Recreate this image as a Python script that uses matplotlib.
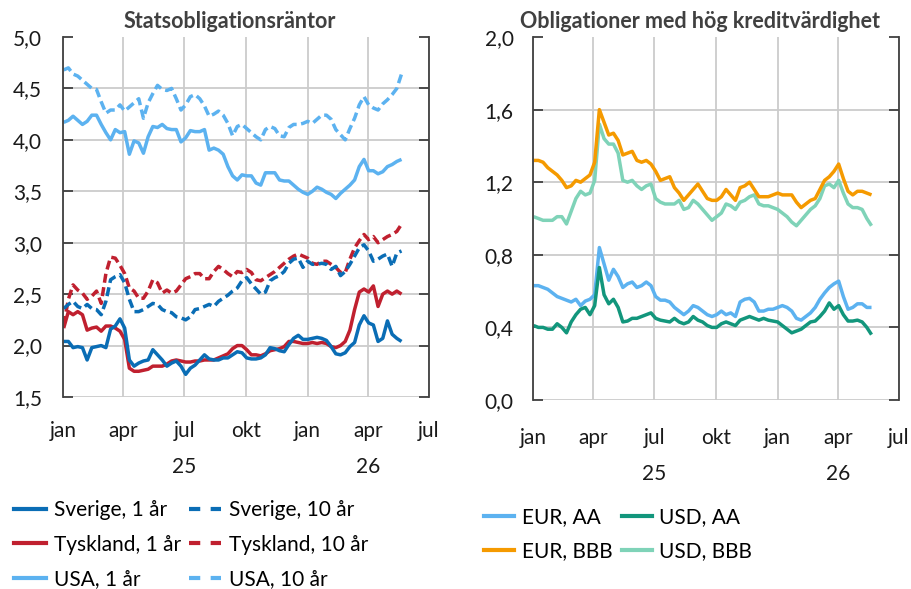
import numpy as np
import pandas as pd
import matplotlib
matplotlib.use("Agg")
import matplotlib.pyplot as plt
from matplotlib.lines import Line2D
import matplotlib.transforms as mtransforms

plt.rcParams['font.family'] = ['Lato', 'DejaVu Sans']

# ---------------- data (weekly readings) ----------------
dates = pd.date_range('2025-01-02', periods=73, freq='7D')

sverige_1 = [2.04,2.04,1.98,1.99,1.98,1.86,1.98,1.99,2.00,1.98,2.16,2.19,2.26,2.17,
             1.86,1.80,1.83,1.85,1.86,1.96,1.91,1.86,1.80,1.83,1.85,1.80,1.72,1.78,1.81,1.86,1.91,1.87,1.86,1.86,1.88,1.88,
             1.91,1.94,1.93,1.88,1.87,1.87,1.88,1.91,1.98,1.97,1.95,1.94,2.01,2.07,2.10,2.06,2.06,2.07,2.08,2.07,
             2.05,1.99,1.92,1.91,1.93,1.99,2.03,2.20,2.29,2.22,2.20,2.04,2.07,2.24,2.11,2.07,2.04]
sverige_10 = [2.36,2.40,2.43,2.38,2.36,2.40,2.36,2.35,2.30,2.43,2.64,2.67,2.69,2.61,2.45,2.33,2.33,2.35,2.38,2.41,
              2.40,2.35,2.33,2.32,2.28,2.27,2.25,2.28,2.35,2.36,2.38,2.40,2.38,2.43,2.46,2.49,2.53,
              2.56,2.63,2.66,2.60,2.55,2.50,2.52,2.63,2.66,2.68,2.72,2.80,2.84,2.85,2.76,2.82,2.79,2.79,2.80,2.79,
              2.74,2.77,2.68,2.72,2.79,2.87,2.95,2.98,2.92,2.82,2.84,2.87,2.89,2.77,2.90,2.92]
tyskland_1 = [2.17,2.33,2.30,2.33,2.30,2.15,2.17,2.18,2.14,2.19,2.19,2.17,2.14,2.06,1.78,
              1.75,1.75,1.76,1.77,1.80,1.80,1.80,1.82,1.85,1.86,1.85,1.84,1.84,1.85,1.85,1.86,1.86,1.86,1.88,1.90,1.92,
              1.97,2.00,2.00,1.96,1.91,1.91,1.90,1.92,1.95,1.96,1.97,1.99,2.04,2.04,2.03,2.02,2.02,2.03,2.02,2.03,
              2.02,1.99,1.98,2.00,2.04,2.15,2.35,2.52,2.55,2.52,2.58,2.38,2.50,2.53,2.50,2.53,2.50]
tyskland_10 = [2.20,2.45,2.59,2.54,2.51,2.45,2.48,2.53,2.41,2.70,2.86,2.85,2.78,2.70,2.56,2.53,2.46,2.46,2.53,2.64,
               2.61,2.51,2.54,2.51,2.53,2.59,2.65,2.67,2.70,2.70,2.65,2.65,2.72,2.77,2.74,2.70,2.67,
               2.72,2.71,2.74,2.71,2.64,2.63,2.66,2.69,2.72,2.76,2.80,2.84,2.87,2.89,2.87,2.85,2.80,2.79,2.82,2.82,
               2.79,2.76,2.71,2.71,2.84,2.95,3.02,3.08,3.03,3.06,3.00,3.03,3.06,3.08,3.11,3.18]
usa_1 = [4.17,4.19,4.23,4.19,4.15,4.18,4.24,4.24,4.15,4.07,4.00,4.10,4.07,4.08,3.86,3.99,3.97,3.87,4.03,4.13,
         4.12,4.15,4.11,4.10,4.10,3.98,4.02,4.09,4.08,4.08,4.10,3.90,3.92,3.90,3.86,3.74,3.65,3.61,3.66,3.65,
         3.65,3.58,3.56,3.68,3.68,3.68,3.61,3.60,3.60,3.56,3.52,3.49,3.47,3.50,3.54,3.52,3.49,3.47,3.43,3.48,
         3.52,3.56,3.61,3.74,3.81,3.70,3.70,3.67,3.69,3.74,3.76,3.79,3.81]
usa_10 = [4.68,4.70,4.64,4.62,4.58,4.54,4.50,4.49,4.37,4.26,4.29,4.29,4.34,
          4.28,4.32,4.36,4.40,4.21,4.36,4.45,4.53,4.49,4.48,4.50,4.40,4.29,4.34,4.42,4.44,4.40,4.33,4.23,4.25,
          4.28,4.24,4.16,4.04,4.13,4.15,4.11,4.07,4.03,4.00,4.10,4.13,4.11,4.04,4.03,4.12,4.15,4.15,4.16,4.18,
          4.16,4.20,4.24,4.24,4.20,4.10,4.05,4.00,4.11,4.21,4.34,4.42,4.34,4.31,4.29,4.35,4.39,4.44,4.50,4.64]

eur_aa = [0.63,0.63,0.62,0.61,0.59,0.57,0.56,0.55,0.54,0.555,0.52,0.545,0.555,0.58,0.84,0.75,0.66,0.72,0.68,0.62,
          0.64,0.65,0.62,0.63,0.65,0.63,0.57,0.55,0.55,0.54,0.51,0.49,0.47,0.49,0.52,0.51,0.49,0.47,0.46,0.47,
          0.49,0.47,0.48,0.46,0.54,0.555,0.56,0.54,0.49,0.49,0.50,0.50,0.51,0.52,0.51,0.49,0.45,0.44,0.46,0.48,
          0.51,0.555,0.59,0.62,0.64,0.655,0.57,0.50,0.51,0.53,0.53,0.51,0.51]
usd_aa = [0.41,0.40,0.40,0.39,0.39,0.42,0.40,0.37,0.43,0.47,0.50,0.51,0.47,0.52,0.73,0.58,0.53,0.555,0.51,0.43,
          0.435,0.45,0.45,0.46,0.47,0.48,0.45,0.44,0.435,0.43,0.45,0.43,0.42,0.43,0.46,0.44,0.43,0.41,0.40,0.40,
          0.42,0.43,0.42,0.41,0.44,0.45,0.46,0.45,0.44,0.45,0.44,0.435,0.43,0.41,0.39,0.37,0.38,0.39,0.41,0.43,
          0.435,0.46,0.49,0.535,0.50,0.52,0.47,0.435,0.435,0.44,0.43,0.40,0.36]
eur_bbb = [1.32,1.32,1.31,1.28,1.26,1.24,1.21,1.17,1.18,1.21,1.20,1.22,1.24,1.31,1.60,1.53,1.46,1.47,1.43,1.35,
           1.36,1.37,1.32,1.31,1.32,1.30,1.26,1.21,1.22,1.23,1.17,1.14,1.10,1.13,1.16,1.19,1.15,1.11,1.10,1.10,
           1.12,1.16,1.13,1.10,1.17,1.18,1.20,1.16,1.12,1.12,1.12,1.13,1.14,1.13,1.13,1.13,1.09,1.06,1.08,1.10,
           1.11,1.16,1.21,1.23,1.26,1.30,1.22,1.15,1.13,1.15,1.15,1.14,1.13]
usd_bbb = [1.01,1.00,0.99,0.99,0.99,1.01,1.01,0.97,1.04,1.11,1.15,1.13,1.14,1.21,1.52,1.44,1.41,1.41,1.36,1.21,
           1.20,1.21,1.18,1.16,1.18,1.19,1.11,1.09,1.08,1.08,1.08,1.10,1.05,1.06,1.10,1.08,1.05,1.02,0.99,1.01,
           1.03,1.08,1.07,1.05,1.09,1.10,1.12,1.13,1.08,1.07,1.07,1.06,1.05,1.03,1.01,0.98,0.96,0.99,1.02,1.05,
           1.07,1.11,1.18,1.19,1.17,1.21,1.14,1.08,1.06,1.06,1.05,1.00,0.96]

tick_dates = pd.to_datetime(['2025-01-01','2025-04-01','2025-07-01','2025-10-01',
                             '2026-01-01','2026-04-01','2026-07-01'])
month_labels = ['jan','apr','jul','okt','jan','apr','jul']
year_labels = ['25','26']
year_dates = pd.to_datetime(['2025-07-01','2026-04-01'])

left_yticks = [1.5,2.0,2.5,3.0,3.5,4.0,4.5,5.0]
right_yticks = [0.0,0.4,0.8,1.2,1.6,2.0]

# ---------------- style ----------------
C_SVE = '#0a6db5'
C_TYS = '#c0202f'
C_USA = '#5cb2f0'
C_USDAA = '#12967c'
C_EURBBB = '#f59a00'
C_USDBBB = '#7fd3b8'
GRID = '#cccccc'
SPINE = '#404040'
LW = 2.5
DASH = (0, (2.6, 1.3))
FS = 15

fig = plt.figure(figsize=(9.11, 5.89), dpi=100)
axL = fig.add_axes([63/911, 1-397/589, 366/911, 360/589])
axR = fig.add_axes([533/911, 1-400/589, 366/911, 363/589])

def style(ax, yticks, ylim, mpad, ypad_years, ytick_pad):
    ax.set_xlim(tick_dates[0], tick_dates[-1])
    ax.set_ylim(*ylim)
    for d in tick_dates:
        ax.axvline(d, color=GRID, lw=1.3, zorder=0)
    for y in yticks[:-1]:
        ax.axhline(y, color=GRID, lw=1.3, zorder=0)
    ax.set_yticks(yticks)
    ax.set_yticklabels([f"{v:.1f}".replace('.', ',') for v in yticks])
    ax.set_xticks(tick_dates)
    ax.set_xticklabels(month_labels)
    ax.tick_params(axis='x', length=0, pad=mpad, labelsize=FS, colors='#1a1a1a')
    ax.tick_params(axis='y', direction='in', length=7.5, width=1.3, color=SPINE,
                   left=True, right=True, pad=ytick_pad, labelsize=FS, labelcolor='#1a1a1a')
    for s in ['top', 'bottom']:
        ax.spines[s].set_visible(False)
    for s in ['left', 'right']:
        ax.spines[s].set_color(SPINE)
        ax.spines[s].set_linewidth(1.3)
    trans = mtransforms.blended_transform_factory(ax.transData, ax.transAxes)
    for d, t in zip(year_dates, year_labels):
        ax.text(d, ypad_years, t, transform=trans, ha='center', va='center',
                fontsize=FS, color='#1a1a1a')

style(axL, left_yticks, (1.5, 5.0), 17, -0.194, 15)
style(axR, right_yticks, (0.0, 2.0), 20.5, -0.204, 14)

# left panel lines
kw = dict(lw=LW, solid_joinstyle='round', solid_capstyle='butt')
axL.plot(dates, usa_10, color=C_USA, ls=DASH, **kw)
axL.plot(dates, usa_1, color=C_USA, **kw)
axL.plot(dates, tyskland_10, color=C_TYS, ls=DASH, **kw)
axL.plot(dates, sverige_10, color=C_SVE, ls=DASH, **kw)
axL.plot(dates, tyskland_1, color=C_TYS, **kw)
axL.plot(dates, sverige_1, color=C_SVE, **kw)

# right panel lines
axR.plot(dates, usd_bbb, color=C_USDBBB, **kw)
axR.plot(dates, eur_bbb, color=C_EURBBB, **kw)
axR.plot(dates, eur_aa, color=C_USA, **kw)
axR.plot(dates, usd_aa, color=C_USDAA, **kw)

# titles
fig.text(230/911, 1-22/589, 'Statsobligationsräntor', ha='center', va='center',
         fontsize=15.5, fontweight='bold', color='#404040')
fig.text(700/911, 1-22/589, 'Obligationer med hög kreditvärdighet', ha='center', va='center',
         fontsize=15.5, fontweight='bold', color='#404040')

# legends
def H(c, ls='-'):
    return Line2D([], [], color=c, lw=3.0, ls=ls)

LDASH = (0, (2.7, 2.5))
hl = [H(C_SVE), H(C_TYS), H(C_USA), H(C_SVE, LDASH), H(C_TYS, LDASH), H(C_USA, LDASH)]
ll = ['Sverige, 1 år', 'Tyskland, 1 år', 'USA, 1 år', 'Sverige, 10 år', 'Tyskland, 10 år', 'USA, 10 år']
fig.legend(hl, ll, loc='upper left', bbox_to_anchor=(14/911, 1-500/589), ncol=2, frameon=False,
           fontsize=FS, handlelength=1.55, handletextpad=0.35, columnspacing=0.4,
           labelspacing=0.7, borderpad=0, borderaxespad=0)

hr = [H(C_USA), H(C_EURBBB), H(C_USDAA), H(C_USDBBB)]
lr = ['EUR, AA', 'EUR, BBB', 'USD, AA', 'USD, BBB']
fig.legend(hr, lr, loc='upper left', bbox_to_anchor=(484/911, 1-507/589), ncol=2, frameon=False,
           fontsize=FS, handlelength=1.45, handletextpad=0.35, columnspacing=0.45,
           labelspacing=0.7, borderpad=0, borderaxespad=0)

fig.savefig('out.png', dpi=100)
